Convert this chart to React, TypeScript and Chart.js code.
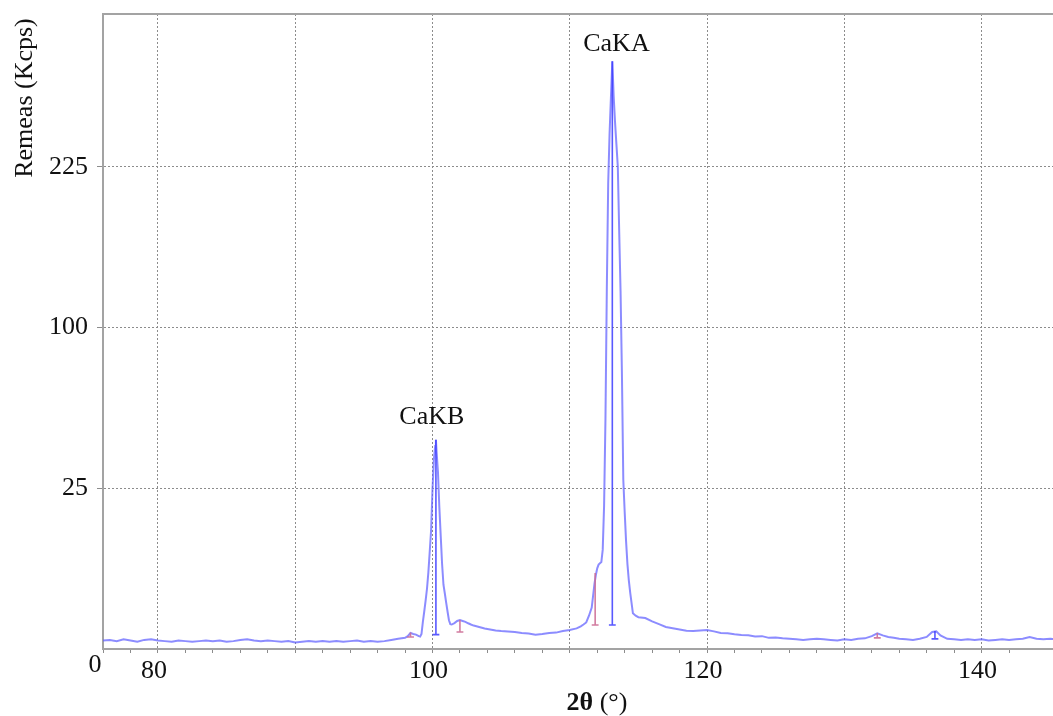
import React, { useEffect, useRef } from 'react';
import { Chart, LinearScale, registerables } from 'chart.js';

// ---------- data ----------
const angles = [
  76.0, 76.5, 77.0, 77.5, 78.0, 78.5, 79.0, 79.5, 80.0, 80.5, 81.0, 81.5, 82.0, 82.5, 83.0, 83.5,
  84.0, 84.5, 85.0, 85.5, 86.0, 86.5, 87.0, 87.5, 88.0, 88.5, 89.0, 89.5, 90.0, 90.5, 91.0, 91.5,
  92.0, 92.5, 93.0, 93.5, 94.0, 94.5, 95.0, 95.5, 96.0, 96.5, 97.0, 97.5, 98.0, 98.2, 98.4, 98.6,
  98.8, 99.0, 99.1, 99.2, 99.3, 99.4, 99.5, 99.6, 99.7, 99.8, 99.9, 100.0, 100.1, 100.2, 100.25, 100.3,
  100.4, 100.5, 100.6, 100.7, 100.8, 100.9, 101.0, 101.1, 101.2, 101.3, 101.4, 101.6, 101.8, 102.0, 102.2, 102.4,
  102.6, 102.8, 103.0, 103.4, 103.8, 104.2, 104.6, 105.0, 105.5, 106.0, 106.5, 107.0, 107.5, 108.0, 108.5, 109.0,
  109.5, 110.0, 110.5, 110.8, 111.0, 111.2, 111.4, 111.6, 111.8, 111.9, 112.0, 112.1, 112.2, 112.3, 112.4, 112.5,
  112.6, 112.7, 112.8, 112.9, 113.0, 113.1, 113.2, 113.3, 113.4, 113.5, 113.6, 113.7, 113.8, 113.9, 114.0, 114.1,
  114.2, 114.3, 114.4, 114.6, 114.8, 115.0, 115.5, 116.0, 116.5, 117.0, 117.5, 118.0, 118.5, 119.0, 119.5, 120.0,
  120.5, 121.0, 121.5, 122.0, 122.5, 123.0, 123.5, 124.0, 124.5, 125.0, 125.5, 126.0, 126.5, 127.0, 127.5, 128.0,
  128.5, 129.0, 129.5, 130.0, 130.5, 131.0, 131.5, 132.0, 132.4, 132.8, 133.2, 133.6, 134.0, 134.5, 135.0, 135.5,
  136.0, 136.4, 136.7, 137.0, 137.5, 138.0, 138.5, 139.0, 139.5, 140.0, 140.5, 141.0, 141.5, 142.0, 142.5, 143.0,
  143.5, 144.0, 144.5, 145.0, 145.5,
];

const kcps = [
  0.07, 0.08, 0.06, 0.09, 0.07, 0.05, 0.08, 0.09, 0.07, 0.06, 0.05, 0.07, 0.06, 0.05, 0.06, 0.07,
  0.06, 0.07, 0.05, 0.06, 0.08, 0.09, 0.07, 0.06, 0.07, 0.06, 0.05, 0.06, 0.04, 0.05, 0.06, 0.05,
  0.06, 0.05, 0.06, 0.05, 0.06, 0.07, 0.05, 0.06, 0.05, 0.06, 0.08, 0.10, 0.12, 0.16, 0.25, 0.22,
  0.20, 0.16, 0.15, 0.22, 0.71, 1.36, 2.26, 3.51, 5.67, 9.2, 13.6, 24.5, 34.6, 39.9, 42.3, 37.6,
  30.2, 19.4, 12.4, 7.0, 4.0, 2.98, 2.05, 1.34, 0.80, 0.60, 0.58, 0.65, 0.76, 0.81, 0.76, 0.71,
  0.64, 0.58, 0.53, 0.47, 0.41, 0.37, 0.33, 0.31, 0.30, 0.28, 0.25, 0.23, 0.20, 0.22, 0.25, 0.26,
  0.31, 0.35, 0.41, 0.50, 0.58, 0.68, 1.07, 1.66, 4.1, 5.3, 6.3, 6.9, 7.1, 7.3, 9.5, 19.8,
  51, 126, 210, 257, 295, 334, 295, 268, 246, 225, 169, 124, 73, 27.7, 18.2, 11.3,
  7.0, 4.6, 3.1, 1.23, 1.07, 0.98, 0.93, 0.74, 0.60, 0.47, 0.42, 0.37, 0.32, 0.31, 0.33, 0.35,
  0.30, 0.25, 0.24, 0.21, 0.19, 0.18, 0.15, 0.16, 0.12, 0.13, 0.11, 0.10, 0.09, 0.08, 0.09, 0.10,
  0.09, 0.08, 0.07, 0.09, 0.08, 0.10, 0.11, 0.16, 0.24, 0.18, 0.14, 0.12, 0.10, 0.09, 0.08, 0.10,
  0.14, 0.28, 0.30, 0.18, 0.10, 0.09, 0.08, 0.09, 0.08, 0.09, 0.07, 0.08, 0.09, 0.08, 0.09, 0.10,
  0.14, 0.10, 0.09, 0.10, 0.09,
];

// peak markers (vertical bars with a cap at their foot)
const markerAngles = [98.4, 100.25, 102.0, 111.85, 113.1, 132.4, 136.6];
const markerTops = [0.26, 42.3, 0.81, 5.6, 334, 0.25, 0.31];
const markerBottoms = [0.14, 0.2, 0.28, 0.56, 0.56, 0.12, 0.1];
const markerKinds = ['pink', 'blue', 'pink', 'pink', 'blue', 'pink', 'blue'];

// peak labels
const peakNames = ['CaKB', 'CaKA'];
const peakLabelAngles = [99.95, 113.4];
const peakLabelLevels = [49, 346];

// axes
const xMin = 76;
const xMax = 145.2;
const xLabelValues = [80, 100, 120, 140];
const yMax = 390;
const yTickValues = [25, 100, 225];
const originLabel = '0';
const yTitle = 'Remeas (Kcps)';
const xTitleBold = '2θ';
const xTitleRest = ' (°)';

// ---------- square-root scale ----------
class SqrtScale extends LinearScale {
  static id = 'sqrt';
  static defaults = LinearScale.defaults;
  getPixelForValue(value: any) {
    if (value === null || value === undefined || isNaN(value)) return NaN;
    const lo = Math.sqrt(Math.max(this.min, 0));
    const hi = Math.sqrt(Math.max(this.max, 0));
    return this.getPixelForDecimal((Math.sqrt(Math.max(value, 0)) - lo) / (hi - lo));
  }
  getValueForPixel(pixel: number) {
    const lo = Math.sqrt(Math.max(this.min, 0));
    const hi = Math.sqrt(Math.max(this.max, 0));
    const s = lo + this.getDecimalForPixel(pixel) * (hi - lo);
    return s * s;
  }
}

Chart.register(...registerables, SqrtScale as any);

const FONT = '"Liberation Serif", "Times New Roman", serif';
const GRID = '#8c8c8c';
const AXIS = '#a3a3a3';

function markerPoints(kind: string) {
  const pts: any[] = [];
  markerAngles.forEach((a, i) => {
    if (markerKinds[i] !== kind) return;
    pts.push({ x: a, y: markerBottoms[i] }, { x: a, y: markerTops[i] }, { x: a, y: null });
    pts.push({ x: a - 0.25, y: markerBottoms[i] }, { x: a + 0.25, y: markerBottoms[i] }, { x: a + 0.25, y: null });
  });
  return pts;
}

const overlay = {
  id: 'overlay',
  afterDraw(chart: any) {
    const { ctx, chartArea, scales } = chart;
    const x = scales.x;
    const y = scales.y;
    ctx.save();
    // top frame line
    ctx.strokeStyle = AXIS;
    ctx.lineWidth = 2;
    ctx.beginPath();
    ctx.moveTo(chartArea.left, chartArea.top);
    ctx.lineTo(chartArea.right, chartArea.top);
    ctx.stroke();

    ctx.fillStyle = '#111';
    ctx.font = `26px ${FONT}`;
    // peak labels
    ctx.textAlign = 'center';
    ctx.textBaseline = 'alphabetic';
    peakNames.forEach((n, i) => {
      ctx.fillText(n, x.getPixelForValue(peakLabelAngles[i]), y.getPixelForValue(peakLabelLevels[i]));
    });
    // origin label
    ctx.fillText(originLabel, chartArea.left - 8, chartArea.bottom + 23);
    // y title
    ctx.save();
    ctx.translate(25, 98);
    ctx.rotate(-Math.PI / 2);
    ctx.textBaseline = 'middle';
    ctx.fillText(yTitle, 0, 0);
    ctx.restore();
    // x title
    ctx.font = `bold 26px ${FONT}`;
    const wb = ctx.measureText(xTitleBold).width;
    ctx.font = `26px ${FONT}`;
    const wr = ctx.measureText(xTitleRest).width;
    const cx = 597;
    const start = cx - (wb + wr) / 2;
    ctx.textAlign = 'left';
    ctx.font = `bold 26px ${FONT}`;
    ctx.fillText(xTitleBold, start, 710);
    ctx.font = `26px ${FONT}`;
    ctx.fillText(xTitleRest, start + wb, 710);
    ctx.restore();
  },
};

export default function App() {
  const ref = useRef<HTMLCanvasElement>(null);
  useEffect(() => {
    document.body.style.margin = '0';
    const spectrum = angles.map((a, i) => ({ x: a, y: kcps[i] }));
    const chart = new Chart(ref.current as HTMLCanvasElement, {
      type: 'line',
      data: {
        datasets: [
          {
            data: markerPoints('blue'),
            borderColor: 'rgba(60,60,255,0.85)',
            borderWidth: 1.6,
            pointRadius: 0,
            spanGaps: false,
          },
          {
            data: markerPoints('pink'),
            borderColor: 'rgba(205,110,150,0.9)',
            borderWidth: 1.6,
            pointRadius: 0,
            spanGaps: false,
          },
          {
            data: spectrum,
            borderColor: 'rgba(95,95,255,0.72)',
            borderWidth: 2,
            pointRadius: 0,
            tension: 0,
          },
        ],
      } as any,
      options: {
        responsive: false,
        animation: false,
        events: [],
        layout: { padding: { top: 14, left: 0, right: 0, bottom: 0 } },
        plugins: { legend: { display: false }, tooltip: { enabled: false } },
        scales: {
          x: {
            type: 'linear',
            min: xMin,
            max: xMax,
            afterFit: (s: any) => {
              s.height = 67;
              s.paddingLeft = 0;
              s.paddingRight = 0;
            },
            border: { color: AXIS, width: 2, dash: [2, 2] },
            grid: {
              color: (c: any) => (c.tick && c.tick.value % 10 === 0 ? GRID : 'rgba(0,0,0,0)'),
              lineWidth: 1,
              tickColor: GRID,
              tickLength: 4,
              tickWidth: 1,
              tickBorderDash: [],
            },
            ticks: {
              stepSize: 2,
              autoSkip: false,
              maxRotation: 0,
              padding: 3,
              labelOffset: -4,
              color: '#111',
              font: { family: FONT, size: 26 },
              callback: (v: any) => (xLabelValues.includes(v) ? String(v) : ''),
            },
          },
          y: {
            type: 'sqrt',
            min: 0,
            max: yMax,
            afterFit: (s: any) => {
              s.width = 103;
              s.paddingTop = 0;
              s.paddingBottom = 0;
            },
            afterBuildTicks: (s: any) => {
              s.ticks = yTickValues.map((v) => ({ value: v }));
            },
            border: { color: AXIS, width: 2, dash: [2, 2] },
            grid: {
              color: GRID,
              lineWidth: 1,
              tickColor: GRID,
              tickLength: 6,
              tickWidth: 1,
              tickBorderDash: [],
            },
            ticks: {
              padding: 9,
              color: '#111',
              font: { family: FONT, size: 26 },
              callback: (v: any) => String(v),
            },
          },
        },
      } as any,
      plugins: [overlay],
    });
    return () => chart.destroy();
  }, []);
  return (
    <div style={{ position: 'absolute', left: 0, top: 0, width: 1053, height: 716, background: '#fff' }}>
      <canvas ref={ref} width={1053} height={716} />
    </div>
  );
}
